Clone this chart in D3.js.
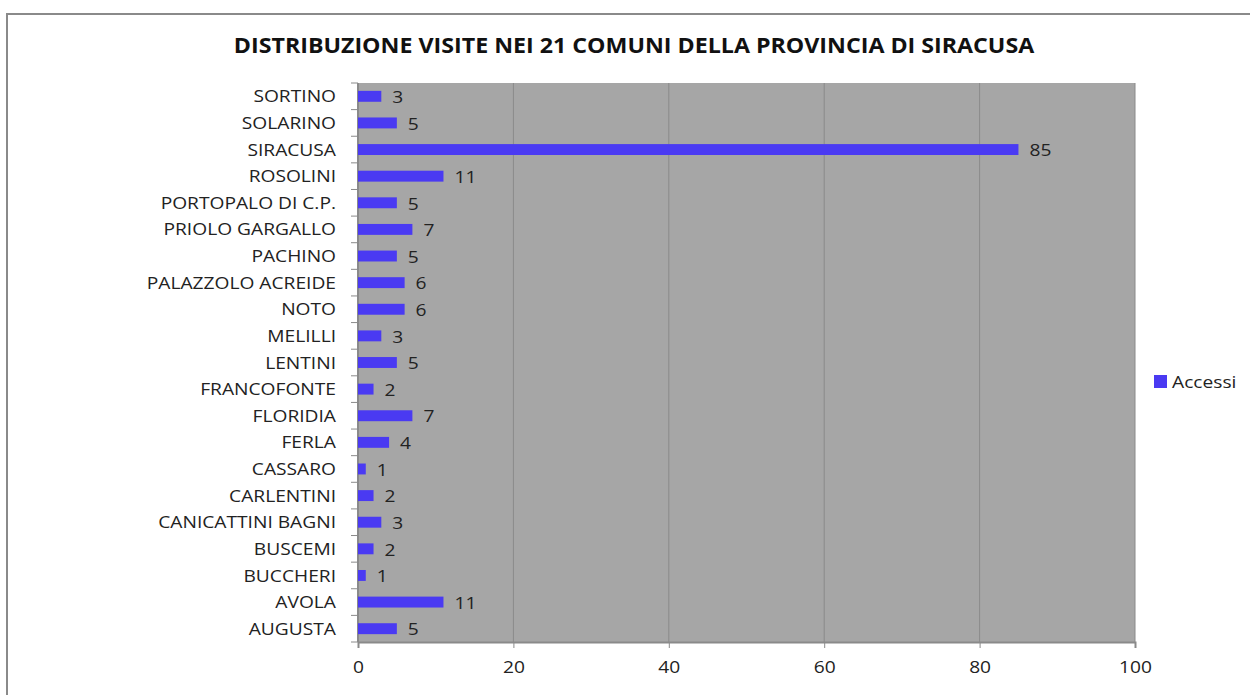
<!DOCTYPE html>
<head>
  <meta charset="utf-8">
  <style>
    body { margin: 0; background: #fff; font-family: "Open Sans", sans-serif; }
  </style>
</head>
<svg width="1250" height="695"></svg>
<script src="https://d3js.org/d3.v7.min.js"></script>
<script>
  // data, top to bottom
  const comuni = ["SORTINO", "SOLARINO", "SIRACUSA", "ROSOLINI", "PORTOPALO DI C.P.",
    "PRIOLO GARGALLO", "PACHINO", "PALAZZOLO ACREIDE", "NOTO", "MELILLI", "LENTINI",
    "FRANCOFONTE", "FLORIDIA", "FERLA", "CASSARO", "CARLENTINI", "CANICATTINI BAGNI",
    "BUSCEMI", "BUCCHERI", "AVOLA", "AUGUSTA"];
  const accessi = [3, 5, 85, 11, 5, 7, 5, 6, 6, 3, 5, 2, 7, 4, 1, 2, 3, 2, 1, 11, 5];
  const xTicks = [0, 20, 40, 60, 80, 100];
  const titolo = "DISTRIBUZIONE VISITE NEI 21 COMUNI DELLA PROVINCIA DI SIRACUSA";
  const serie = "Accessi";

  const rows = comuni.map((c, i) => ({ comune: c, val: accessi[i] }));

  const margin = { top: 83, left: 358, right: 115, bottom: 53 },
    width = 1250 - margin.left - margin.right,
    height = 695 - margin.top - margin.bottom;

  // the original picture is a bit stretched sideways
  const sx = 1.2;

  const svg = d3.select("svg");

  // outer chart frame
  svg.append("path")
    .attr("d", "M7,700 L7,14 L1260,14")
    .attr("fill", "none")
    .attr("stroke", "#8a8a8a")
    .attr("stroke-width", 2);

  svg.append("text")
    .attr("transform", "translate(634,53) scale(1.08,1)")
    .attr("text-anchor", "middle")
    .style("font-size", "21.5px")
    .style("font-weight", "bold")
    .style("fill", "#111")
    .text(titolo);

  const g = svg.append("g").attr("transform", `translate(${margin.left},${margin.top})`);

  const x = d3.scaleLinear().domain([0, 100]).range([0, width]);
  const y = d3.scaleBand().domain(comuni).range([0, height]).paddingInner(0.59).paddingOuter(0.295);

  g.append("rect")
    .attr("width", width)
    .attr("height", height)
    .attr("fill", "#a6a6a6");

  // gridlines
  g.selectAll(".grid")
    .data(xTicks.slice(1))
    .enter().append("line")
    .attr("x1", d => x(d)).attr("x2", d => x(d))
    .attr("y1", 0).attr("y2", height)
    .attr("stroke", "#8a8a8a")
    .attr("stroke-width", 1);

  // x axis
  const xAxis = g.append("g")
    .attr("transform", `translate(0,${height})`)
    .call(d3.axisBottom(x).tickValues(xTicks).tickSize(6).tickPadding(14));
  xAxis.select(".domain").attr("stroke", "#8a8a8a").attr("stroke-width", 2);
  xAxis.selectAll(".tick line").attr("stroke", "#8a8a8a");
  xAxis.selectAll("text")
    .attr("transform", `scale(${sx},1)`)
    .style("font-size", "16px").style("fill", "#222").style("font-family", "Open Sans");

  // y axis: ticks sit between categories
  const step = y.step();
  const bounds = d3.range(comuni.length + 1).map(i => i * step);
  const yAxis = g.append("g");
  yAxis.append("line")
    .attr("x1", 0).attr("x2", 0).attr("y1", 0).attr("y2", height)
    .attr("stroke", "#8a8a8a").attr("stroke-width", 2);
  yAxis.selectAll(".yt")
    .data(bounds)
    .enter().append("line")
    .attr("x1", -7).attr("x2", 0)
    .attr("y1", d => d).attr("y2", d => d)
    .attr("stroke", "#8a8a8a");
  yAxis.selectAll(".yl")
    .data(comuni)
    .enter().append("text")
    .attr("transform", d => `translate(-22,${y(d) + y.bandwidth() / 2}) scale(${sx},1)`)
    .attr("dy", "0.38em")
    .attr("text-anchor", "end")
    .style("font-size", "16px")
    .style("fill", "#222")
    .text(d => d);

  // bars
  g.selectAll(".bar")
    .data(rows)
    .enter().append("rect")
    .attr("x", 0)
    .attr("y", d => y(d.comune))
    .attr("width", d => x(d.val))
    .attr("height", y.bandwidth())
    .attr("fill", "#4a3af2");

  g.selectAll(".val")
    .data(rows)
    .enter().append("text")
    .attr("transform", d => `translate(${x(d.val) + 11},${y(d.comune) + y.bandwidth() / 2}) scale(${sx},1)`)
    .attr("dy", "0.42em")
    .style("font-size", "16px")
    .style("fill", "#222")
    .text(d => d.val);

  // legend
  const leg = svg.append("g").attr("transform", "translate(1154,375)");
  leg.append("rect").attr("width", 13).attr("height", 13).attr("fill", "#4a3af2");
  leg.append("text")
    .attr("transform", `translate(18,7) scale(1.2,1)`)
    .attr("dy", "0.36em")
    .style("font-size", "16px").style("fill", "#222")
    .text(serie);
</script>
